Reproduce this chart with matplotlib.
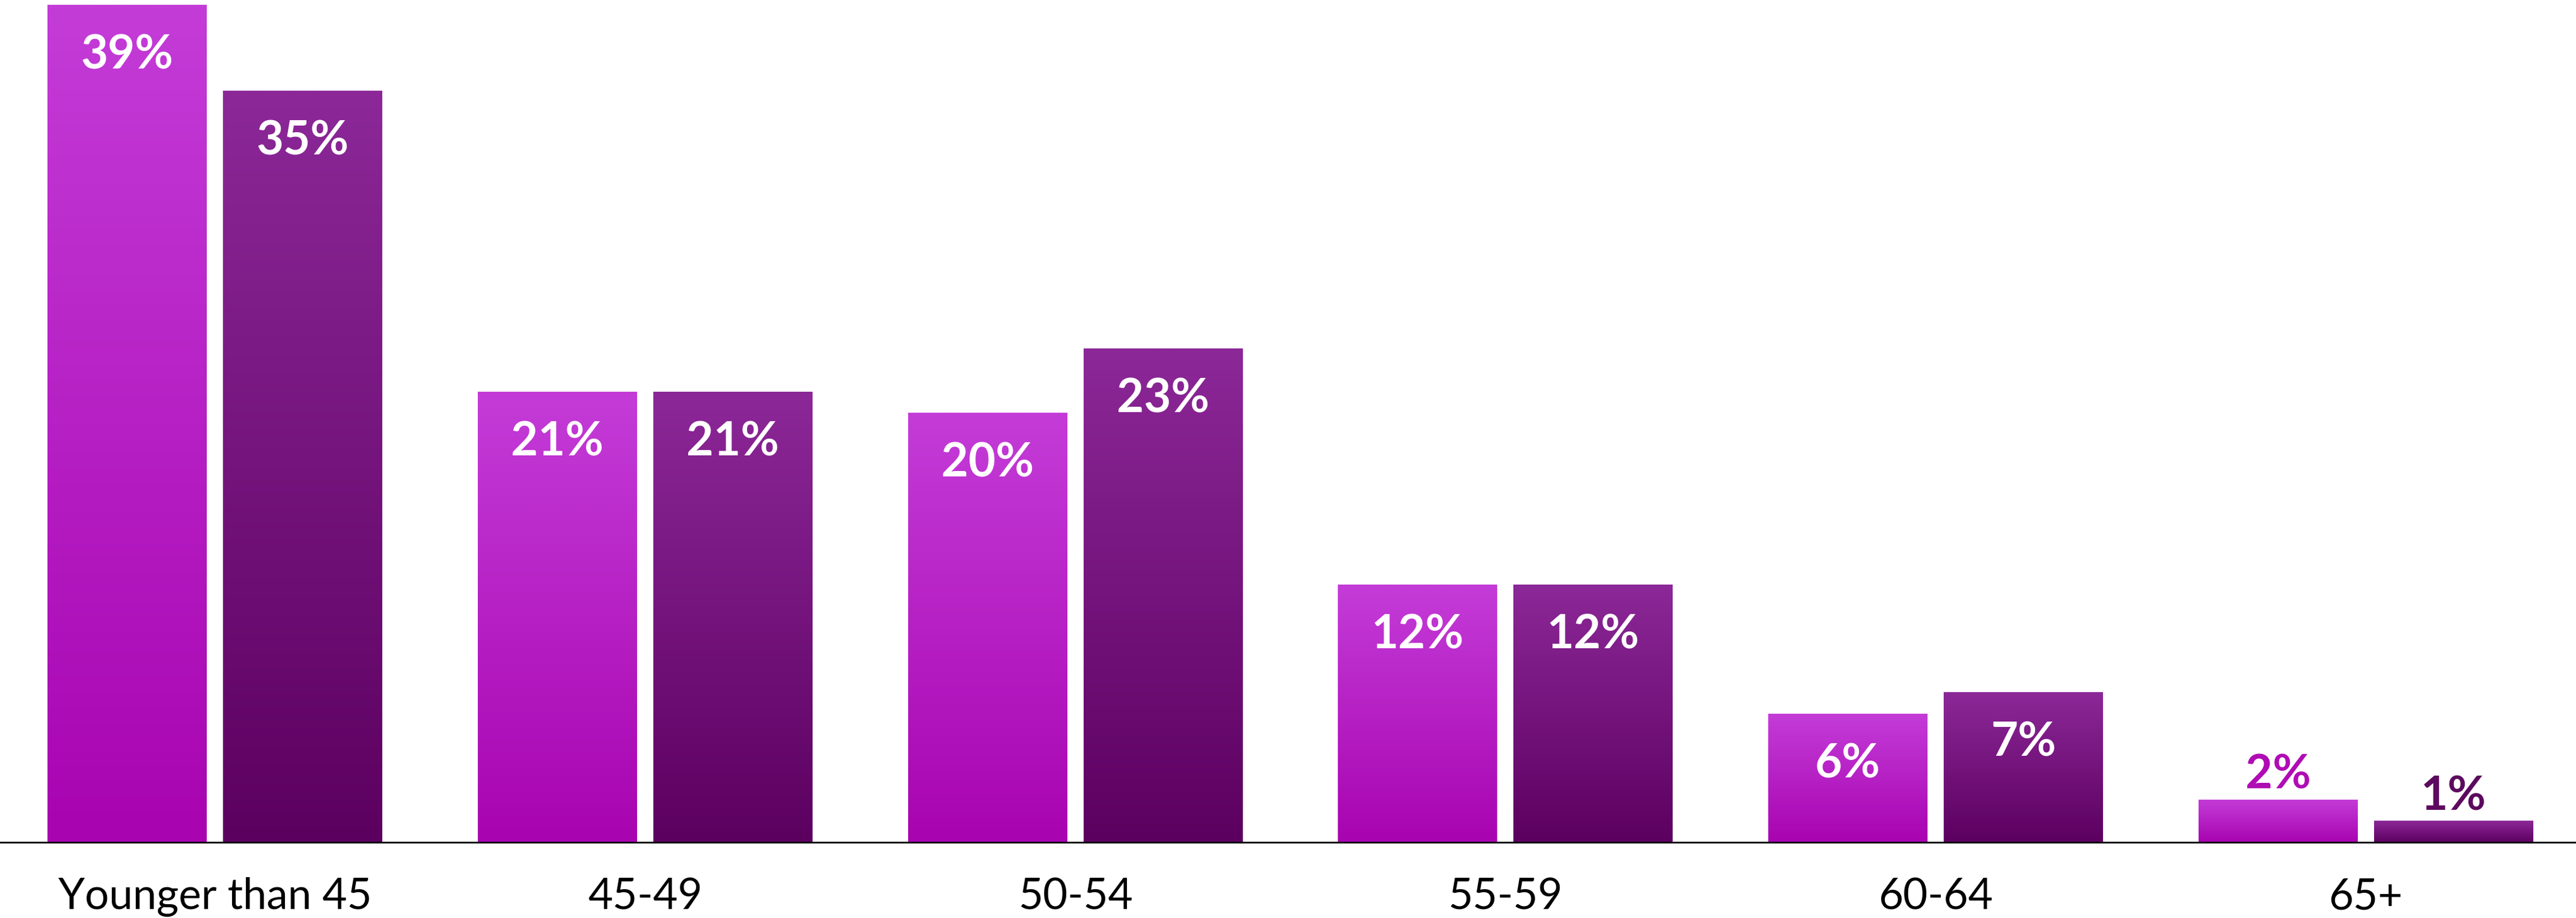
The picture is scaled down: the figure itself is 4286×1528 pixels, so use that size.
import numpy as np
import matplotlib
matplotlib.use("Agg")
import matplotlib.pyplot as plt
from matplotlib.colors import to_rgb

categories = ["Younger than 45", "45-49", "50-54", "55-59", "60-64", "65+"]
series_a = [39, 21, 20, 12, 6, 2]
series_b = [35, 21, 23, 12, 7, 1]

grad_a = ("#C43CD8", "#A804B0")   # top, bottom
grad_b = ("#8C2898", "#5C0060")
label_out_a = "#B00CB4"
label_out_b = "#5C0A5E"

plt.rcParams['font.family'] = ['Lato', 'DejaVu Sans']

W, H = 4286, 1528
dpi = 100
fig = plt.figure(figsize=(W / dpi, H / dpi), dpi=dpi)
base_px = 1402
ax = fig.add_axes([0, (H - base_px) / H, 1, base_px / H])

x = np.arange(len(categories))
bw = 0.370
off = 0.204

def grad_bars(xpos, vals, cols, outcol):
    bars = ax.bar(xpos, vals, width=bw, color='none', edgecolor='none', zorder=2)
    top = np.array(to_rgb(cols[0]))
    bot = np.array(to_rgb(cols[1]))
    t = np.linspace(0, 1, 256)[:, None]
    img = (bot[None, :] * (1 - t) + top[None, :] * t)[:, None, :]
    for b, v in zip(bars, vals):
        x0 = b.get_x()
        im = ax.imshow(img, extent=[x0, x0 + b.get_width(), 0, v], origin='lower',
                       aspect='auto', zorder=1, interpolation='bilinear')
        im.set_clip_path(b)
        cx = x0 + b.get_width() / 2
        if v >= 5:
            ax.annotate(f"{v}%", (cx, v), xytext=(0, -61), textcoords='offset points',
                        ha='center', va='center', color='white', fontsize=56,
                        fontweight='bold', zorder=3)
        else:
            ax.annotate(f"{v}%", (cx, v), xytext=(0, 3), textcoords='offset points',
                        ha='center', va='bottom', color=outcol, fontsize=56,
                        fontweight='bold', zorder=3)

grad_bars(x - off, series_a, grad_a, label_out_a)
grad_bars(x + off, series_b, grad_b, label_out_b)

ax.set_xlim(-0.5, 5.489)
ax.set_ylim(0, 39.23)
ax.set_xticks(x)
ax.set_xticklabels(categories, fontsize=51)
ax.tick_params(axis='x', length=0, pad=42)
ax.set_yticks([])
for s in ['left', 'right', 'top']:
    ax.spines[s].set_visible(False)
ax.spines['bottom'].set_linewidth(2)
ax.spines['bottom'].set_color('black')
ax.spines['bottom'].set_zorder(4)

fig.savefig("out.png", dpi=dpi)
